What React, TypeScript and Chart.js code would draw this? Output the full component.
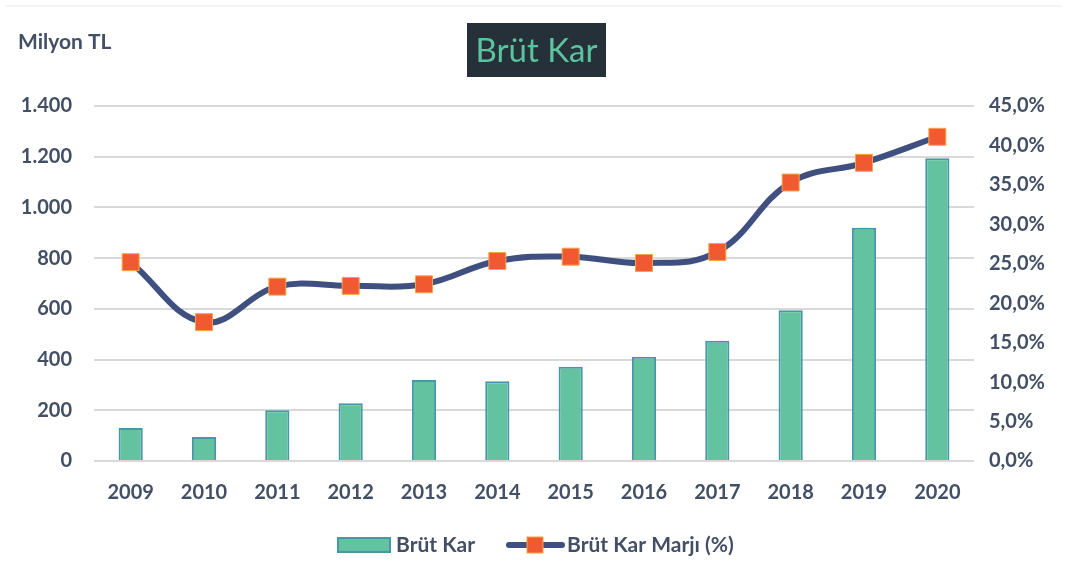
import React, { useEffect, useRef } from "react";
import { Chart, registerables } from "chart.js";

Chart.register(...registerables);

const years = ["2009", "2010", "2011", "2012", "2013", "2014", "2015", "2016", "2017", "2018", "2019", "2020"];
const grossProfit = [130, 95, 200, 228, 319, 315, 372, 411, 474, 595, 920, 1194];
const grossMargin = [25.2, 17.6, 22.1, 22.2, 22.4, 25.35, 25.9, 25.1, 26.5, 35.3, 37.8, 41.1];

const TEXT = "#424f64";
const BAR_FILL = "#63c3a1";
const BAR_EDGE = "#4797a6";
const LINE = "#3f5080";
const MARK = "#f15a31";
const MARK_EDGE = "#f7a34a";
const FONT = "Lato";

const decor = {
  id: "decor",
  afterDraw(chart: any) {
    const ctx = chart.ctx;
    ctx.save();
    // faint top border line
    ctx.strokeStyle = "#f4f4f4";
    ctx.lineWidth = 2;
    ctx.beginPath();
    ctx.moveTo(5, 6);
    ctx.lineTo(1062, 6);
    ctx.stroke();
    // unit label
    ctx.fillStyle = TEXT;
    ctx.font = `bold 21px ${FONT}`;
    ctx.textAlign = "left";
    ctx.textBaseline = "middle";
    ctx.fillText("Milyon TL", 18, 42);
    // title box
    ctx.fillStyle = "#263039";
    ctx.fillRect(467, 23, 139, 54);
    ctx.fillStyle = "#5cc39f";
    ctx.font = `33px ${FONT}`;
    ctx.textAlign = "center";
    ctx.fillText("Brüt Kar", 536.5, 51);
    // legend
    const ly = 545;
    ctx.fillStyle = BAR_FILL;
    ctx.fillRect(338, ly - 7, 52, 14);
    ctx.strokeStyle = BAR_EDGE;
    ctx.lineWidth = 2;
    ctx.strokeRect(338, ly - 7, 52, 14);
    ctx.fillStyle = TEXT;
    ctx.font = `bold 21px ${FONT}`;
    ctx.textAlign = "left";
    ctx.fillText("Brüt Kar", 396, ly);
    ctx.strokeStyle = LINE;
    ctx.lineWidth = 6;
    ctx.lineCap = "round";
    ctx.beginPath();
    ctx.moveTo(509, ly);
    ctx.lineTo(562, ly);
    ctx.stroke();
    ctx.fillStyle = MARK;
    ctx.fillRect(527, ly - 8, 16, 16);
    ctx.strokeStyle = MARK_EDGE;
    ctx.lineWidth = 1;
    ctx.strokeRect(527, ly - 8, 16, 16);
    ctx.fillStyle = TEXT;
    ctx.fillText("Brüt Kar Marjı (%)", 567, ly);
    ctx.restore();
  },
};

export default function App() {
  const ref = useRef<HTMLCanvasElement>(null);
  useEffect(() => {
    document.body.style.margin = "0";
    const tickFont = { family: FONT, size: 20, weight: "bold" as const };
    const chart = new Chart(ref.current!, {
      type: "bar",
      data: {
        labels: years,
        datasets: [
          {
            type: "line",
            label: "Brüt Kar Marjı (%)",
            data: grossMargin,
            yAxisID: "y1",
            borderColor: LINE,
            borderWidth: 6,
            tension: 0.4,
            pointStyle: "rect",
            pointRadius: 12,
            pointBackgroundColor: MARK,
            pointBorderColor: MARK_EDGE,
            pointBorderWidth: 1,
            order: 0,
          } as any,
          {
            type: "bar",
            label: "Brüt Kar",
            data: grossProfit,
            yAxisID: "y",
            backgroundColor: BAR_FILL,
            borderColor: BAR_EDGE,
            borderWidth: 2,
            barPercentage: 0.33,
            categoryPercentage: 1,
            order: 1,
          },
        ],
      },
      options: {
        responsive: false,
        animation: false,
        layout: { padding: { top: 106, bottom: 57, left: 0, right: 0 } },
        plugins: { legend: { display: false }, tooltip: { enabled: false }, title: { display: false } },
        scales: {
          x: {
            grid: { display: false, drawTicks: false },
            border: { display: false },
            ticks: { color: TEXT, font: tickFont, padding: 20 },
            afterFit: (a: any) => { a.height = 65; },
          },
          y: {
            position: "left",
            min: 0,
            max: 1400,
            grid: { color: "#d9d9d9", lineWidth: 2, drawTicks: false },
            border: { display: false },
            ticks: {
              stepSize: 200,
              padding: 22,
              color: TEXT,
              font: tickFont,
              callback: (v: any) => Number(v).toLocaleString("de-DE"),
            },
            afterFit: (a: any) => { a.width = 94; },
          },
          y1: {
            position: "right",
            min: 0,
            max: 45,
            grid: { display: false, drawTicks: false },
            border: { display: false },
            ticks: {
              stepSize: 5,
              padding: 15,
              color: TEXT,
              font: tickFont,
              callback: (v: any) => Number(v).toFixed(1).replace(".", ",") + "%",
            },
            afterFit: (a: any) => { a.width = 93; },
          },
        },
      },
      plugins: [decor],
    });
    return () => chart.destroy();
  }, []);
  return (
    <div style={{ position: "absolute", left: 0, top: 0, width: 1067, height: 583, background: "#fff" }}>
      <canvas ref={ref} width={1067} height={583} style={{ display: "block" }} />
    </div>
  );
}
